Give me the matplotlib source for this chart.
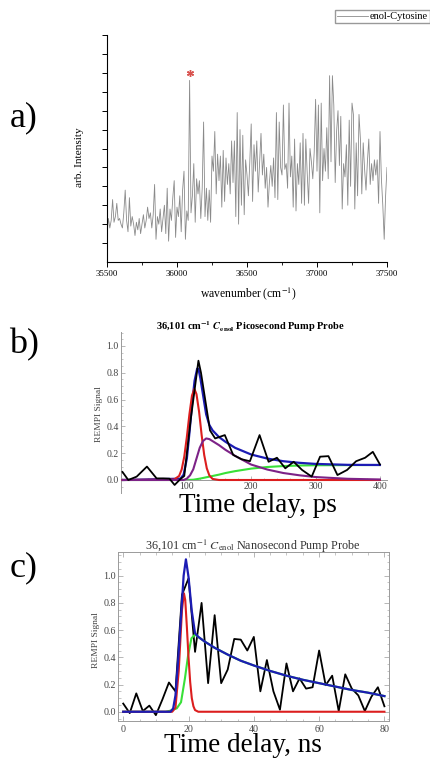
"""
Three stacked panels: enol-cytosine REMPI spectrum plus ps and ns pump-probe traces.
"""
import numpy as np
from matplotlib import pyplot as plt
from matplotlib.ticker import MultipleLocator

plt.rcParams['font.family'] = ['Liberation Serif', 'DejaVu Serif']
plt.rcParams['mathtext.fontset'] = 'stix'

# ---- panel a: REMPI spectrum (arbitrary intensity) ----
wn_start = 35500
wn_step = 10
spec_intensity = [
    1.5, 2.3, 1.8, 2.2, 3.3, 2.1, 2.4, 3.1, 2.2, 2.3,
    2.0, 1.8, 2.6, 3.8, 2.2, 1.6, 3.4, 1.9, 2.4, 2.0,
    1.4, 2.1, 1.7, 2.3, 1.5, 2.0, 2.5, 1.8, 2.2, 2.9,
    2.3, 2.6, 1.8, 2.5, 4.1, 1.2, 2.4, 2.0, 2.8, 1.6,
    2.3, 3.0, 1.5, 3.9, 1.1, 2.8, 2.2, 3.4, 4.3, 1.3,
    2.9, 2.4, 3.5, 1.6, 3.8, 4.8, 1.2, 2.7, 2.2, 9.6,
    2.6, 3.5, 5.2, 2.1, 4.4, 3.6, 4.3, 2.3, 3.9, 7.4,
    2.4, 3.9, 2.2, 3.8, 2.1, 5.6, 4.8, 6.9, 3.6, 5.7,
    4.3, 5.6, 2.9, 5.9, 3.2, 5.5, 4.1, 5.2, 3.6, 6.4,
    4.2, 6.4, 2.4, 7.9, 2.0, 7.0, 3.0, 6.7, 2.5, 5.4,
    4.6, 3.5, 5.3, 7.3, 3.2, 6.2, 4.8, 6.4, 3.7, 5.3,
    6.8, 4.6, 5.7, 3.9, 5.0, 2.9, 4.2, 5.1, 4.0, 5.5,
    3.4, 7.9, 3.3, 7.4, 5.0, 4.6, 8.3, 4.9, 5.2, 3.9,
    8.4, 4.5, 5.6, 2.9, 6.5, 2.7, 5.2, 4.1, 6.3, 3.1,
    6.8, 3.0, 6.5, 4.7, 3.1, 6.0, 5.3, 4.4, 5.8, 8.6,
    4.8, 8.3, 2.6, 8.4, 4.3, 6.0, 4.8, 7.1, 4.4, 9.85,
    5.3, 9.85, 8.3, 4.2, 6.9, 8.0, 5.1, 7.7, 2.8, 5.2,
    4.5, 6.2, 3.0, 7.5, 4.0, 8.4, 7.8, 2.8, 6.3, 3.5,
    7.8, 6.5, 3.6, 6.3, 4.9, 3.8, 5.3, 6.5, 4.1, 5.2,
    4.3, 5.4, 4.6, 5.4, 3.1, 6.9, 4.4, 3.0, 1.2, 3.5,
    5.0,
]
star_x = [36090]
star_y = [10.0]

# ---- panel b: picosecond pump probe ----
ps_t = [0, 9, 22, 38, 53, 63, 73, 81, 90, 96, 106, 118, 122, 136, 144, 159, 172, 185, 198,
        213, 227, 240, 253, 266, 279, 294, 307, 320, 334, 349, 363, 377, 389, 400]
ps_signal = [0.06, 0.0, 0.025, 0.10, 0.012, 0.012, 0.01, -0.037, 0.007, 0.03, 0.45, 0.89, 0.80,
             0.37, 0.31, 0.335, 0.187, 0.155, 0.14, 0.335, 0.136, 0.166, 0.087, 0.136, 0.075,
             0.025, 0.174, 0.178, 0.037, 0.075, 0.14, 0.166, 0.21, 0.116]
ps_red_t = [0, 80, 88, 92, 96, 100, 104, 108, 111.7, 115, 119, 123, 127, 131, 135, 140, 150, 400]
ps_red = [0, 0.003, 0.03, 0.079, 0.174, 0.32, 0.49, 0.63, 0.68, 0.64, 0.51, 0.335, 0.186, 0.087,
          0.034, 0.008, 0, 0]
ps_purple_t = [0, 95, 100, 105, 110, 115, 120, 125, 130, 135, 140, 150, 160, 175, 200, 225, 250,
               275, 300, 350, 400]
ps_purple = [0, 0.0, 0.01, 0.035, 0.08, 0.16, 0.24, 0.29, 0.31, 0.305, 0.29, 0.26, 0.225, 0.18,
             0.115, 0.078, 0.052, 0.035, 0.022, 0.009, 0.004]
ps_green_t = [0, 100, 110, 120, 130, 140, 150, 160, 175, 200, 225, 250, 275, 300, 350, 400]
ps_green = [0, 0, 0.002, 0.01, 0.02, 0.03, 0.04, 0.052, 0.066, 0.085, 0.097, 0.104, 0.108, 0.11,
            0.111, 0.112]
ps_blue_t = [0, 90, 95, 100, 104, 108, 112, 116, 118, 121, 125, 130, 135, 140, 150, 160, 175,
             200, 225, 250, 275, 300, 350, 400]
ps_blue = [0, 0.01, 0.04, 0.16, 0.35, 0.56, 0.74, 0.83, 0.83, 0.76, 0.64, 0.49, 0.41, 0.37, 0.32,
           0.285, 0.24, 0.19, 0.16, 0.14, 0.128, 0.12, 0.113, 0.112]

# ---- panel c: nanosecond pump probe ----
ns_t = list(range(0, 82, 2))
ns_signal = [0.06, -0.01, 0.135, 0.005, 0.045, -0.025, 0.09, 0.215, 0.15, 0.86, 0.98, 0.44,
             0.80, 0.21, 0.71, 0.21, 0.31, 0.535, 0.53, 0.45, 0.55, 0.15, 0.38, 0.15, 0.015,
             0.355, 0.15, 0.245, 0.17, 0.18, 0.45, 0.195, 0.265, 0.005, 0.275, 0.17, 0.12,
             0.005, 0.11, 0.18, 0.04]
ns_red_t = [0, 15, 16, 17, 18, 18.6, 19, 19.5, 20, 20.5, 21, 21.5, 22, 23, 80]
ns_red = [0, 0, 0.03, 0.3, 0.75, 0.87, 0.82, 0.62, 0.4, 0.22, 0.1, 0.04, 0.012, 0, 0]
ns_green_t = [0, 13, 14.3, 16.4, 17.7, 18.9, 19.9, 20.9, 21.9, 22.5, 23, 25, 28, 32, 36, 40, 45,
              50, 55, 60, 65, 70, 75, 80]
ns_green = [0, 0, 0.007, 0.025, 0.07, 0.245, 0.42, 0.54, 0.565, 0.56, 0.55, 0.515, 0.47, 0.42,
            0.375, 0.34, 0.3, 0.265, 0.235, 0.21, 0.185, 0.16, 0.14, 0.115]
ns_blue_t = [0, 14.5, 15.3, 16, 16.8, 17.8, 18.5, 19.2, 20, 21, 22, 23, 25, 28, 32, 36, 40, 45,
             50, 55, 60, 65, 70, 75, 80]
ns_blue = [0, 0, 0.025, 0.12, 0.37, 0.735, 1.0, 1.12, 0.99, 0.74, 0.576, 0.55, 0.515, 0.47, 0.42,
           0.375, 0.34, 0.3, 0.265, 0.235, 0.21, 0.185, 0.16, 0.14, 0.115]

BLUE = '#1c1cb4'
RED = '#dc1e1e'
PURPLE = '#7d2287'
GREEN = '#38e038'
AXIS_GRAY = '#9a9a9a'
LABEL_GRAY = '#444444'

W, H = 430, 759


def fig_box(left, top, right, bottom):
    # pixel box -> figure fraction rect
    return [left / W, 1 - bottom / H, (right - left) / W, (bottom - top) / H]


def fig_xy(x, y):
    return x / W, 1 - y / H


def main():
    fig = plt.figure(figsize=(W / 100, H / 100), dpi=100)

    # PANEL A #
    ax_a = fig.add_axes(fig_box(107, 35, 387, 262))
    wn = wn_start + wn_step * np.arange(len(spec_intensity))
    line_a, = ax_a.plot(wn, spec_intensity, color='#8a8a8a', lw=0.6, label='enol-Cytosine')
    ax_a.plot(star_x, star_y, linestyle='none', marker=(6, 2, 0), markersize=5,
              color='#d9534f', markeredgewidth=1.0)
    ax_a.set_xlim(35500, 37500)
    ax_a.set_ylim(0, 12)
    ax_a.spines['top'].set_visible(False)
    ax_a.spines['right'].set_visible(False)
    for side in ('left', 'bottom'):
        ax_a.spines[side].set_linewidth(0.8)
    ax_a.set_xticks([35500, 36000, 36500, 37000, 37500])
    ax_a.xaxis.set_minor_locator(MultipleLocator(250))
    ax_a.set_yticks(np.arange(1, 13))
    ax_a.set_yticklabels([])
    ax_a.tick_params(axis='both', direction='out', length=3.5, width=0.7, labelsize=6.4, pad=2)
    ax_a.tick_params(axis='x', which='minor', direction='out', length=2, width=0.6)
    fig.text(*fig_xy(248, 294), 'wavenumber (cm$^{-1}$)', ha='center', va='center', fontsize=8.4)
    fig.text(*fig_xy(80, 157), 'arb. Intensity', ha='center', va='center', fontsize=8.2, rotation=90)
    fig.legend(handles=[line_a], loc='upper right', bbox_to_anchor=(1.0, 1 - 10 / H),
               fontsize=7.5, frameon=True, fancybox=False, edgecolor='#999999', framealpha=1,
               handlelength=3.0, handletextpad=0.15, borderpad=0.2, borderaxespad=0)
    fig.text(*fig_xy(24, 118), 'a)', ha='center', va='center', fontsize=26)

    # PANEL B #
    ax_b = fig.add_axes(fig_box(121, 332, 387, 493))
    ax_b.plot(ps_red_t, ps_red, color=RED, lw=1.5, zorder=3)
    ax_b.plot(ps_purple_t, ps_purple, color=PURPLE, lw=1.5, zorder=3)
    ax_b.plot(ps_green_t, ps_green, color=GREEN, lw=1.5, zorder=2)
    ax_b.plot(ps_blue_t, ps_blue, color=BLUE, lw=1.6, zorder=2)
    ax_b.plot(ps_t, ps_signal, color='black', lw=1.3, zorder=4)
    ax_b.set_xlim(-2.3, 411)
    ax_b.set_ylim(-0.097, 1.104)
    ax_b.spines['top'].set_visible(False)
    ax_b.spines['right'].set_visible(False)
    ax_b.spines['bottom'].set_position(('data', 0))
    for side in ('left', 'bottom'):
        ax_b.spines[side].set_color(AXIS_GRAY)
        ax_b.spines[side].set_linewidth(0.7)
    ax_b.set_xticks([100, 200, 300, 400])
    ax_b.xaxis.set_minor_locator(MultipleLocator(20))
    ax_b.set_yticks([0, 0.2, 0.4, 0.6, 0.8, 1.0])
    ax_b.set_yticklabels(['%.1f' % v for v in [0, 0.2, 0.4, 0.6, 0.8, 1.0]])
    ax_b.yaxis.set_minor_locator(MultipleLocator(0.05))
    ax_b.tick_params(axis='both', direction='in', length=3, width=0.5, color=AXIS_GRAY,
                     labelsize=7, labelcolor=LABEL_GRAY, pad=1.5)
    ax_b.tick_params(axis='both', which='minor', direction='in', length=1.5, width=0.4,
                     color=AXIS_GRAY)
    fig.text(*fig_xy(250, 327),
             r'36,101 cm$^{\mathbf{-1}}$ $\mathbfit{C}_{\mathbf{enol}}$ Picosecond Pump Probe',
             ha='center', va='center', fontsize=7.5, fontweight='bold')
    fig.text(*fig_xy(99, 414), 'REMPI Signal', ha='center', va='center', fontsize=6.8,
             rotation=90, color=LABEL_GRAY)
    fig.text(*fig_xy(258, 505), 'Time delay, ps', ha='center', va='center', fontsize=19.5)
    fig.text(*fig_xy(24, 345), 'b)', ha='center', va='center', fontsize=26)

    # PANEL C #
    ax_c = fig.add_axes(fig_box(118, 552, 389, 721))
    ax_c.plot(ns_t, ns_signal, color='black', lw=1.3, zorder=2)
    ax_c.plot(ns_green_t, ns_green, color=GREEN, lw=1.5, zorder=3)
    ax_c.plot(ns_red_t, ns_red, color=RED, lw=1.5, zorder=4)
    ax_c.plot(ns_blue_t, ns_blue, color=BLUE, lw=1.6, zorder=5)
    ax_c.set_xlim(-1.6, 81.4)
    ax_c.set_ylim(-0.068, 1.174)
    for side in ax_c.spines.values():
        side.set_color(AXIS_GRAY)
        side.set_linewidth(0.7)
    ax_c.set_xticks([0, 20, 40, 60, 80])
    ax_c.xaxis.set_minor_locator(MultipleLocator(5))
    ax_c.set_yticks([0, 0.2, 0.4, 0.6, 0.8, 1.0])
    ax_c.set_yticklabels(['%.1f' % v for v in [0, 0.2, 0.4, 0.6, 0.8, 1.0]])
    ax_c.yaxis.set_minor_locator(MultipleLocator(0.05))
    ax_c.tick_params(axis='both', which='both', direction='in', top=True, right=True,
                     color=AXIS_GRAY)
    ax_c.tick_params(axis='both', which='major', length=3.5, width=0.5, labelsize=7.2,
                     labelcolor=LABEL_GRAY)
    ax_c.tick_params(axis='y', which='major', pad=1.5)
    ax_c.tick_params(axis='x', which='major', pad=3)
    ax_c.tick_params(axis='both', which='minor', length=1.8, width=0.4)
    fig.text(*fig_xy(253, 546), r'36,101 cm$^{-1}$ $\mathit{C}_{\mathrm{enol}}$ Nanosecond Pump Probe',
             ha='center', va='center', fontsize=8.7, color='#333333')
    fig.text(*fig_xy(96, 640), 'REMPI Signal', ha='center', va='center', fontsize=6.8,
             rotation=90, color=LABEL_GRAY)
    fig.text(*fig_xy(243, 746), 'Time delay, ns', ha='center', va='center', fontsize=19.5)
    fig.text(*fig_xy(24, 568), 'c)', ha='center', va='center', fontsize=26)

    fig.savefig('out.png', dpi=100)


if __name__ == '__main__':
    main()
